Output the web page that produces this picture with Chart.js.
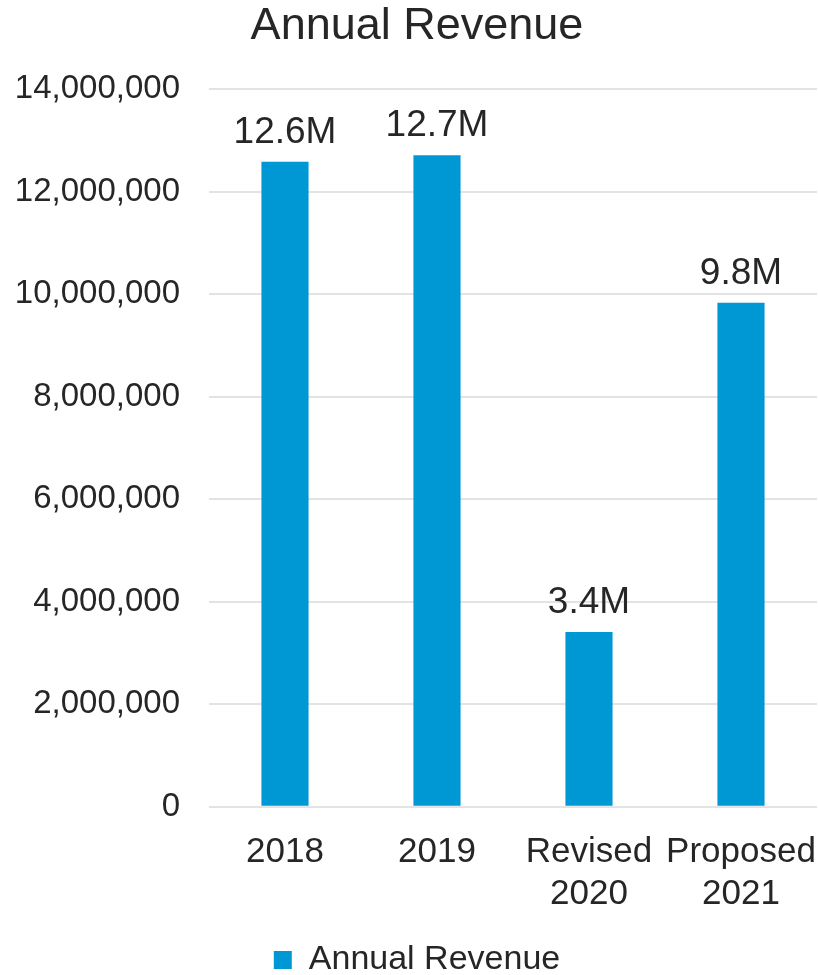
<!DOCTYPE html>
<html>
<head>
<meta charset="utf-8">
<script src="https://cdn.jsdelivr.net/npm/chart.js@4/dist/chart.umd.min.js"></script>
<style>
    html, body { margin: 0; padding: 0; background: #fff; }
    #wrap { width: 818px; height: 975px; }
</style>
</head>
<body>
<div id="wrap"><canvas id="myChart" width="818" height="975"></canvas></div>
<script>
var categorias = [['2018'], ['2019'], ['Revised', '2020'], ['Proposed', '2021']];
var ingresos = [12580000, 12710000, 3410000, 9830000];
var etiquetas = ['12.6M', '12.7M', '3.4M', '9.8M'];
var ticks_y = [0, 2000000, 4000000, 6000000, 8000000, 10000000, 12000000, 14000000];

var texto = '#262626';
var fuente = "'Liberation Sans', Arial, sans-serif";

// etiquetas encima de cada barra
const valores = {
    id: 'valores',
    afterDatasetsDraw(chart) {
        var ctx = chart.ctx;
        var meta = chart.getDatasetMeta(0);
        ctx.save();
        ctx.fillStyle = texto;
        ctx.font = '37px ' + fuente;
        ctx.textAlign = 'center';
        ctx.textBaseline = 'alphabetic';
        meta.data.forEach(function (bar, i) {
            ctx.fillText(etiquetas[i], bar.x, bar.y - 19);
        });
        ctx.restore();
    }
};

function grafico() {
    var ctx = document.getElementById('myChart').getContext('2d');
    var myChart = new Chart(ctx, {
        type: 'bar',
        data: {
            labels: categorias,
            datasets: [{
                label: 'Annual Revenue',
                data: ingresos,
                backgroundColor: '#0098d4',
                borderWidth: 0,
                barPercentage: 0.31,
                categoryPercentage: 1
            }]
        },
        options: {
            responsive: false,
            animation: false,
            layout: {padding: {left: 17, right: 1, top: 0, bottom: -12}},
            plugins: {
                title: {
                    display: true,
                    text: 'Annual Revenue',
                    color: texto,
                    font: {family: fuente, size: 45, weight: 'normal'},
                    padding: {top: 0, bottom: 35}
                },
                legend: {
                    position: 'bottom',
                    labels: {
                        color: texto,
                        boxWidth: 18,
                        boxHeight: 18,
                        padding: 11,
                        font: {family: fuente, size: 34}
                    }
                },
                tooltip: {enabled: false}
            },
            scales: {
                x: {
                    grid: {display: false},
                    border: {display: false},
                    afterFit: function (axis) {
                        axis.paddingLeft = 0;
                        axis.paddingRight = 0;
                    },
                    ticks: {
                        color: texto,
                        font: {family: fuente, size: 35, lineHeight: 1.19},
                        padding: 17,
                        autoSkip: false,
                        maxRotation: 0
                    }
                },
                y: {
                    min: 0,
                    max: 14000000,
                    afterBuildTicks: function (axis) {
                        axis.ticks = ticks_y.map(function (v) { return {value: v}; });
                    },
                    afterFit: function (axis) {
                        axis.width = 192;
                    },
                    grid: {color: '#e3e3e3', lineWidth: 2, drawTicks: false},
                    border: {display: false},
                    ticks: {
                        color: texto,
                        font: {family: fuente, size: 33},
                        padding: 29,
                        callback: function (v) { return v.toLocaleString('en-US'); }
                    }
                }
            }
        },
        plugins: [valores]
    });
}

grafico();
</script>
</body>
</html>
